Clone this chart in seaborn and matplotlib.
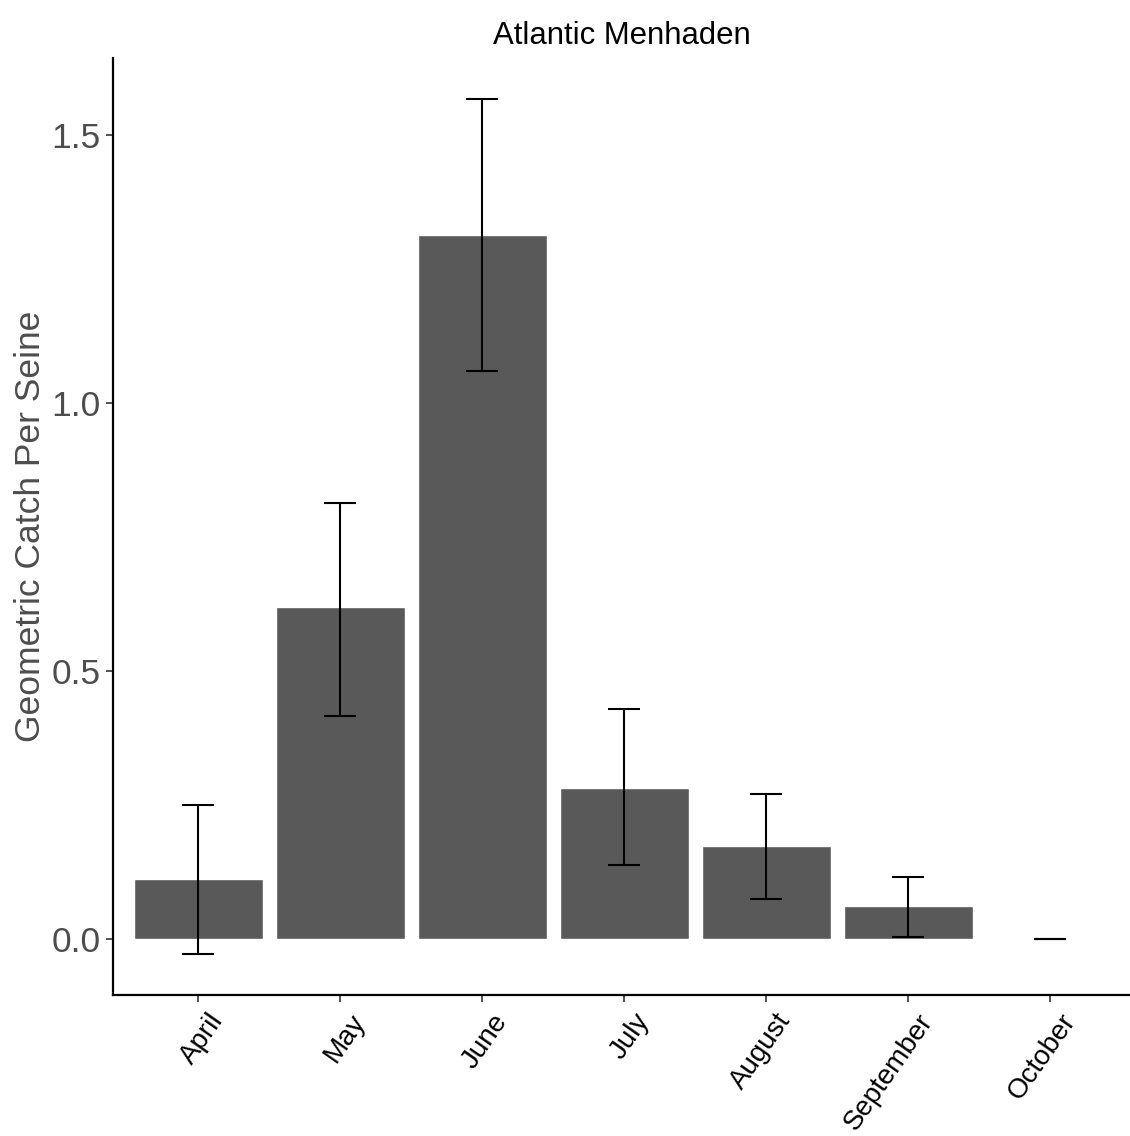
import seaborn as sns
import pandas as pd
import numpy as np
import matplotlib
import matplotlib.pyplot as plt
from matplotlib.transforms import ScaledTranslation

matplotlib.use('Agg')

sns.set_theme(style="ticks")
plt.rcParams['font.family'] = ['Liberation Sans', 'DejaVu Sans']

# data
months = ['April', 'May', 'June', 'July', 'August', 'September', 'October']
catch_mean = [0.112, 0.619, 1.313, 0.282, 0.175, 0.063, 0.0]
err_low = [-0.028, 0.416, 1.060, 0.138, 0.075, 0.004, 0.0]
err_high = [0.250, 0.813, 1.567, 0.429, 0.272, 0.116, 0.0]

df = pd.DataFrame({'Month': months, 'Catch': catch_mean,
                   'Low': err_low, 'High': err_high})

fig = plt.figure(figsize=(11.3, 11.36), dpi=100)
ax = fig.add_axes([0.1, 0.124, 0.9, 0.825])

sns.barplot(data=df, x='Month', y='Catch', color='#595959',
            saturation=1, width=0.91, ax=ax, zorder=2)

yerr = np.vstack([df['Catch'] - df['Low'], df['High'] - df['Catch']])
ax.errorbar(np.arange(len(df)), df['Catch'], yerr=yerr, fmt='none',
            ecolor='black', elinewidth=1.5, capsize=11.5, capthick=1.5,
            zorder=3)

ax.set_xlim(-0.6, 6.56)
ax.set_ylim(-0.104, 1.644)
ax.set_yticks([0.0, 0.5, 1.0, 1.5])
ax.set_yticklabels(['0.0', '0.5', '1.0', '1.5'])

ax.set_title('Atlantic Menhaden', fontsize=22.4, color='black', pad=10)
ax.set_xlabel('')
ax.set_ylabel('Geometric Catch Per Seine', fontsize=25.5, color='#4D4D4D',
              labelpad=3)

ax.tick_params(axis='y', labelsize=25.5, labelcolor='#4D4D4D',
               color='#333333', length=5, width=1.2, pad=4)
ax.tick_params(axis='x', labelsize=20, labelcolor='black',
               color='#333333', length=5, width=1.2)
shift = ScaledTranslation(9 / 100, -2 / 100, fig.dpi_scale_trans)
for lab in ax.get_xticklabels():
    lab.set_rotation(55)
    lab.set_ha('right')
    lab.set_va('top')
    lab.set_rotation_mode('anchor')
    lab.set_transform(lab.get_transform() + shift)

sns.despine(ax=ax)
for side in ['left', 'bottom']:
    ax.spines[side].set_linewidth(1.6)
    ax.spines[side].set_color('black')

fig.savefig('out.png', dpi=100, facecolor='white')
